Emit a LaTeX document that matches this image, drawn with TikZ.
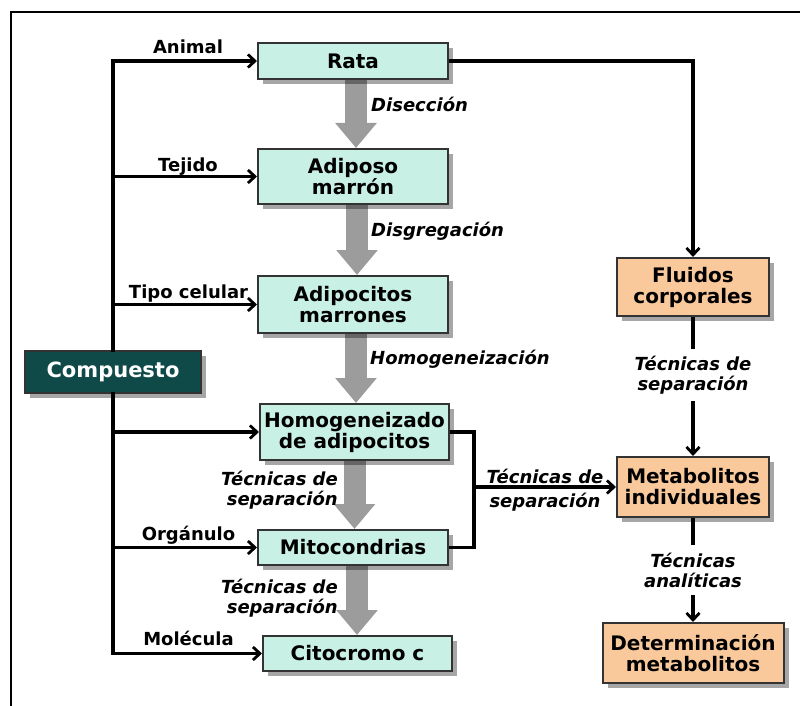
\documentclass[tikz,border=0pt]{standalone}
\usepackage{fontspec}
\setmainfont{DejaVu Sans}
\usetikzlibrary{arrows.meta,shadows,backgrounds}
\definecolor{tealbox}{HTML}{C8F0E4}
\definecolor{orangebox}{HTML}{F9C99C}
\definecolor{darkteal}{HTML}{0F4A48}
\definecolor{grayarrow}{HTML}{9C9C9C}
\tikzset{
  box/.style={draw=black!80, line width=2pt, inner sep=0pt, align=center,
    font=\fontsize{20}{21}\selectfont\bfseries,
    drop shadow={shadow xshift=5pt, shadow yshift=-5pt, fill=black, opacity=0.35}},
  tbox/.style={box, fill=tealbox},
  obox/.style={box, fill=orangebox},
  lbl/.style={font=\fontsize{18}{20}\selectfont\bfseries, inner sep=0pt},
  ilbl/.style={font=\fontsize{18}{20}\selectfont\bfseries\itshape, inner sep=0pt, align=center},
  conn/.style={line width=3.5pt, -{Straight Barb[length=7pt,width=13pt,line width=2.8pt]}},
  plainline/.style={line width=3.5pt, line cap=rect},
  fatarrow/.style={line width=22pt, draw=grayarrow, -{Triangle[length=25pt,width=40pt]}},
  frameline/.style={line width=2pt}
}
\begin{document}
\begin{tikzpicture}[x=1pt,y=-1pt]
\useasboundingbox (0,0) rectangle (800,706);
\draw[frameline] (11,706) -- (11,12) -- (800,12);

% left column
\node[tbox, minimum width=190pt, minimum height=36pt] (rata) at (353,61) {Rata};
\node[tbox, minimum width=190pt, minimum height=55pt] (adiposo) at (353,176.5) {Adiposo\\marrón};
\node[tbox, minimum width=190pt, minimum height=57pt] (adipocitos) at (353,304.5) {Adipocitos\\marrones};
\node[tbox, minimum width=189pt, minimum height=56pt] (homog) at (354.5,432) {Homogeneizado\\de adipocitos};
\node[tbox, minimum width=190pt, minimum height=35pt] (mito) at (353,547.5) {Mitocondrias};
\node[tbox, minimum width=189pt, minimum height=35pt] (cito) at (357.5,653.5) {Citocromo c};

\node[box, fill=darkteal, text=white, font=\fontsize{21}{23}\selectfont\bfseries,
      minimum width=176pt, minimum height=42pt] (compuesto) at (113,372) {Compuesto};

% right column
\node[obox, minimum width=152pt, minimum height=58pt] (fluidos) at (693,287) {Fluidos\\corporales};
\node[obox, minimum width=152pt, minimum height=60pt] (metab) at (693,487) {Metabolitos\\individuales};
\node[obox, minimum width=181pt, minimum height=60pt] (determ) at (693,653) {Determinación\\metabolitos};

% gray process arrows
\begin{scope}[on background layer]
\draw[fatarrow] ([xshift=3pt]rata.south) coordinate (f1) -- (f1 |- adiposo.north);
\draw[fatarrow] ([xshift=4pt]adiposo.south) coordinate (f2) -- (f2 |- adipocitos.north);
\draw[fatarrow] ([xshift=3pt]adipocitos.south) coordinate (f3) -- (f3 |- homog.north);
\draw[fatarrow] ([xshift=0pt]homog.south) coordinate (f4) -- (f4 |- mito.north);
\draw[fatarrow] ([xshift=4pt]mito.south) coordinate (f5) -- (f5 |- cito.north);
\end{scope}

\node[ilbl, anchor=base west] (ldis) at (371,112) {Disección};
\node[ilbl, anchor=base west] (ldisg) at (371,236) {Disgregación};
\node[ilbl, anchor=base west] (lhom) at (370,364) {Homogeneización};
\node[ilbl, align=right, anchor=east] (lsep1) at (338,490) {Técnicas de\\separación};
\node[ilbl, align=right, anchor=east] (lsep2) at (338,598) {Técnicas de\\separación};

% spine and branches
\draw[plainline] (compuesto |- rata) -- (compuesto.north);
\draw[plainline] (compuesto.south) -- (compuesto |- cito);
\draw[conn] (compuesto |- rata) -- (rata.west);
\draw[conn] (compuesto |- adiposo) -- (adiposo.west);
\draw[conn] (compuesto |- adipocitos) -- (adipocitos.west);
\draw[conn] (compuesto |- homog) -- (homog.west);
\draw[conn] (compuesto |- mito) -- (mito.west);
\draw[conn] (compuesto |- cito) -- (cito.west);

\node[lbl, anchor=base] (lanimal) at (188,54) {Animal};
\node[lbl, anchor=base] (ltejido) at (188,171) {Tejido};
\node[lbl, anchor=base] (ltipo) at (188.5,298) {Tipo celular};
\node[lbl, anchor=base] (lorg) at (188.5,540) {Orgánulo};
\node[lbl, anchor=base] (lmol) at (188.5,645) {Molécula};

% right side connectors
\draw[conn] (rata.east) -| (fluidos.north);
\draw[conn] (fluidos) -- node[ilbl, fill=white, inner sep=7pt, pos=0.42] (lsep3) {Técnicas de\\separación} (metab);
\draw[conn] (metab) -- node[ilbl, fill=white, inner sep=8pt, pos=0.5] (lana) {Técnicas\\analíticas} (determ);

\draw[plainline, line cap=butt] (homog.east) -- ++(24,0) coordinate (bt) |- (mito.east);
\draw[conn] (bt |- metab) -- node[ilbl, above=2pt] (lsep4a) {Técnicas de} node[ilbl, below=4pt] (lsep4b) {separación} (metab.west);
\end{tikzpicture}
\end{document}
